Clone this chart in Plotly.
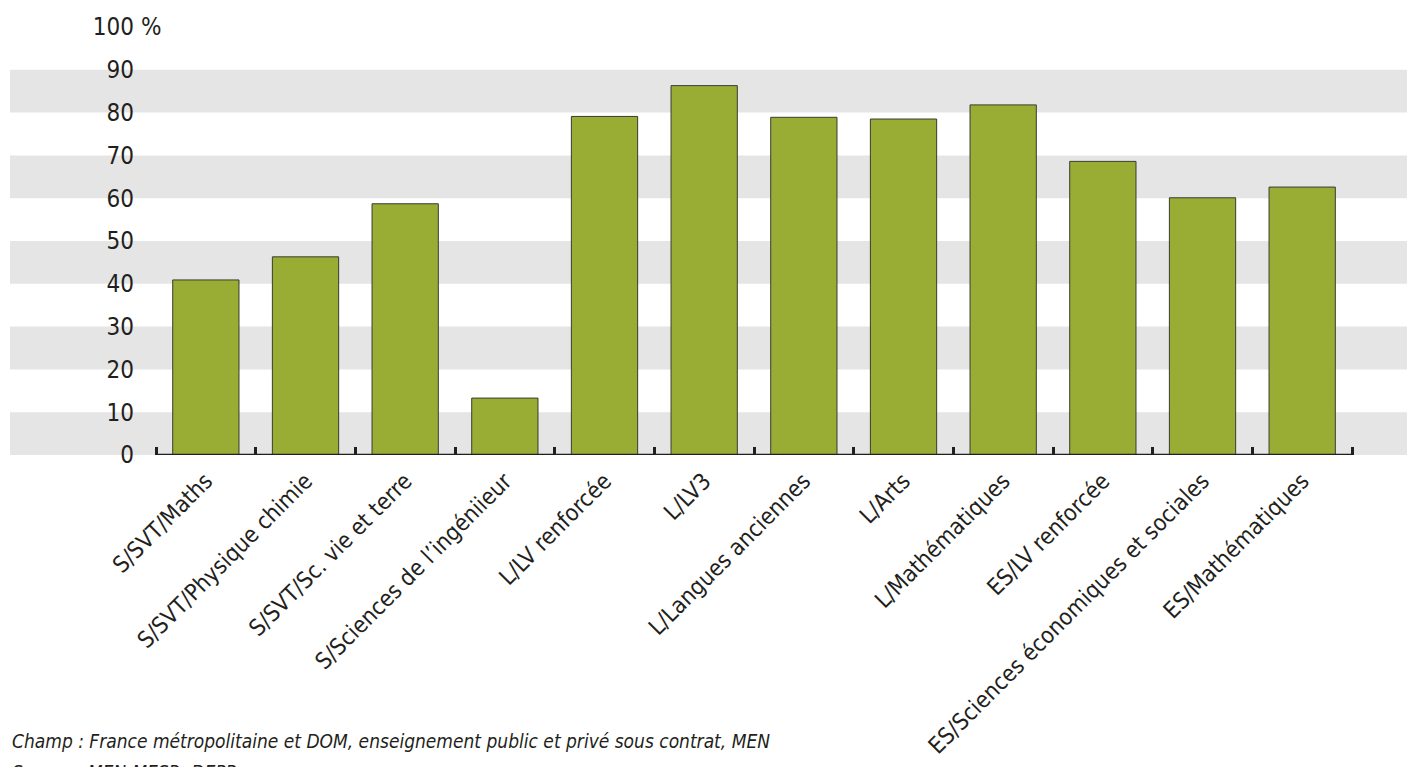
import plotly.graph_objects as go

categories = [
    "S/SVT/Maths",
    "S/SVT/Physique chimie",
    "S/SVT/Sc. vie et terre",
    "S/Sciences de l\u2019ingéniieur",
    "L/LV renforcée",
    "L/LV3",
    "L/Langues anciennes",
    "L/Arts",
    "L/Mathématiques",
    "ES/LV renforcée",
    "ES/Sciences économiques et sociales",
    "ES/Mathématiques",
]
values = [40.9, 46.3, 58.7, 13.3, 79.1, 86.3, 78.9, 78.5, 81.8, 68.6, 60.1, 62.6]
y_ticks = [0, 10, 20, 30, 40, 50, 60, 70, 80, 90, 100]
y_ticktext = ["0", "10", "20", "30", "40", "50", "60", "70", "80", "90", "100"]
band_ranges = [(0, 10), (20, 30), (40, 50), (60, 70), (80, 90)]
caption_lines = [
    "Champ : France métropolitaine et DOM, enseignement public et privé sous contrat, MEN",
    "Source : MEN-MESR, DEPP",
]

FONT = "Liberation Sans Narrow, DejaVu Sans Condensed, Roboto, sans-serif"
TXT = "#231f20"
GREEN = "#99ad35"

W, H = 1407, 767
ML, MT = 10, 27
PLOT_W = W - ML
PLOT_H = 428
PX_PER_CAT = 99.667
X0 = -1.965
X1 = X0 + PLOT_W / PX_PER_CAT

xpos = list(range(len(categories)))
boundaries = [i - 0.5 for i in range(len(categories) + 1)]

fig = go.Figure()
fig.add_trace(go.Bar(
    x=xpos, y=values, width=0.665,
    marker=dict(color=GREEN, line=dict(color="#3a3a30", width=1)),
    hoverinfo="x+y",
))

shapes = []
for lo, hi in band_ranges:
    shapes.append(dict(type="rect", xref="x", yref="y", x0=X0 - 1, x1=X1 + 1, y0=lo, y1=hi,
                       fillcolor="#e5e5e5", line=dict(width=0), layer="below"))
shapes.append(dict(type="line", xref="x", yref="y", x0=boundaries[0], x1=boundaries[-1],
                   y0=0, y1=0, line=dict(color=TXT, width=2.5), layer="above"))


def px_x(page_x):
    return (page_x - ML) / PLOT_W


def px_y(page_y):
    # plot bottom at page y 455, height 428
    return (455 - page_y) / PLOT_H


fig.update_layout(
    width=W, height=H,
    margin=dict(l=ML, r=0, t=MT, b=H - MT - PLOT_H),
    paper_bgcolor="white", plot_bgcolor="rgba(0,0,0,0)",
    showlegend=False,
    font=dict(family=FONT, color=TXT, size=22),
    shapes=shapes,
    xaxis=dict(
        range=[X0, X1], tickmode="array", tickvals=xpos, ticktext=categories,
        tickangle=-45, ticks="", showgrid=False, zeroline=False, showline=False,
        ticklabelstandoff=7, automargin=False,
        tickfont=dict(size=23, family=FONT, color=TXT),
        minor=dict(tickmode="array", tickvals=boundaries, ticks="inside", ticklen=8,
                   tickwidth=2.5, tickcolor=TXT, showgrid=False),
    ),
    yaxis=dict(
        range=[0, 100], tickmode="array", tickvals=y_ticks, ticktext=y_ticktext,
        anchor="free", position=px_x(134), side="left", automargin=False,
        ticks="", showgrid=False, zeroline=False, showline=False,
        tickfont=dict(size=24, family=FONT, color=TXT),
    ),
    annotations=[
        dict(xref="paper", yref="y", x=px_x(139), y=100, text="%", showarrow=False,
             xanchor="left", yanchor="middle", font=dict(size=24, family=FONT, color=TXT)),
        dict(xref="paper", yref="paper", x=0, y=px_y(741), text=caption_lines[0], showarrow=False,
             xanchor="left", yanchor="middle",
             font=dict(size=19, family=FONT, color=TXT, style="italic")),
        dict(xref="paper", yref="paper", x=0, y=px_y(772), text=caption_lines[1], showarrow=False,
             xanchor="left", yanchor="middle",
             font=dict(size=19, family=FONT, color=TXT, style="italic")),
    ],
)

fig.write_html(
    "out.html",
    config={"displayModeBar": False},
    post_script="document.body.style.margin='0';document.body.style.overflow='hidden';",
)
